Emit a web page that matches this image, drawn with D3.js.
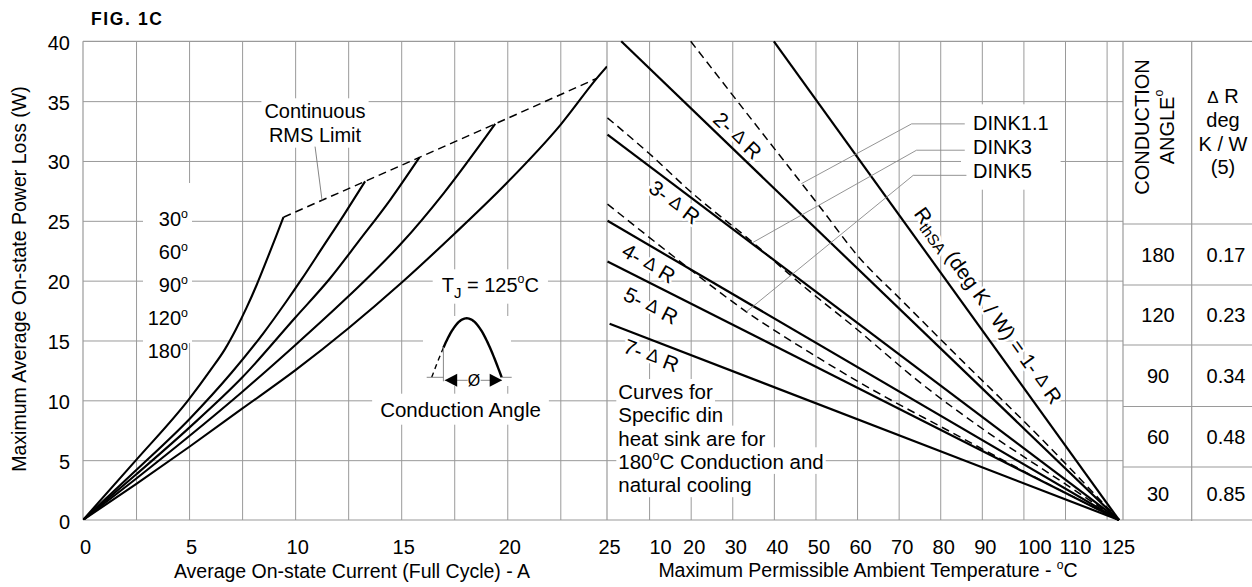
<!DOCTYPE html>
<html><head><meta charset="utf-8">
<script src="https://cdn.jsdelivr.net/npm/d3@7"></script>
<style>
body{margin:0;background:#fff}
svg{display:block;font-family:"Liberation Sans",Arial,Helvetica,sans-serif}
</style></head><body>
<svg id="c" width="1252" height="587"></svg>
<script>
// ================= DATA =================
// Left panel: power loss (W) vs average current (A) for each conduction angle
const conductionAngles = [30, 60, 90, 120, 180];
const curve30  = [[0,0],[2.5,5.0],[5,10.1],[6,12.5],[6.7,14.3],[7.2,15.9],[7.7,17.7],[8.2,19.7],[8.7,21.9],[9.1,23.7],[9.45,25.3]];
const curve60  = [[0,0],[2.5,4.15],[5,8.4],[7,12.3],[8.5,15.6],[9.6,18.3],[10.3,20.1],[11.3,22.8],[12.3,25.5],[13.3,28.3]];
const curve90  = [[0,0],[2.5,3.8],[5,7.7],[7.5,11.9],[10,16.9],[11.65,20.2],[13,23.3],[14.5,26.8],[15.86,30.3]];
const curve120 = [[0,0],[2.5,3.45],[5,7.0],[7.5,10.7],[10,14.6],[12.4,18.5],[13.4,20.2],[15,23.1],[17,27.3],[19.43,33.1]];
const curve180 = [[0,0],[2.5,3.0],[5,6.1],[7.5,9.3],[10,12.5],[12.5,16],[15,19.8],[17.5,23.9],[20,28.2],[22.5,33.0],[24.45,36.9],[25,37.9]];
const rmsLimit = [[9.45,25.3],[13.3,28.3],[15.86,30.3],[19.43,33.1],[24.45,36.9]];
const currentTicks = [0,5,10,15,20,25];
const currentGrid = [2.5,5,7.5,10,12.5,15,17.5,20,22.5];
const powerTicks = [0,5,10,15,20,25,30,35,40];
const powerGrid = [5,10,15,20,25,30,35];

// Right panel: power (W) vs ambient temperature (degC)
const rsa1 = [[40,40],[125,0]];
const rsa2 = [[3.3,40],[125,0]];
const rsa3 = [[0,32.2],[125,0]];
const rsa4 = [[0,25.0],[125,0]];
const rsa5 = [[0,21.6],[125,0]];
const rsa7 = [[0.5,16.4],[125,0]];
const rsaNames = ["1","2","3","4","5","7"];
const dink11 = [[20,40],[36.6,32.6],[51,26.2],[60.6,21.9],[70.3,18.5],[84.7,13.5],[104,6.9],[125,0]];
const dink3  = [[0,33.6],[10.1,30.6],[20.1,27.4],[34.9,23.2],[46.2,19.8],[59.4,16.1],[75.1,11.5],[91.9,7.2],[108.8,3.3],[125,0]];
const dink5  = [[0,26.4],[15.6,22.1],[33.4,17.4],[48.6,14.0],[63.1,11.0],[82.3,7.4],[101.6,3.8],[125,0]];
const dinkNames = ["DINK1.1","DINK3","DINK5"];
const tempTicks = [10,20,30,40,50,60,70,80,90,100,110,125];
const tempGrid = [10,20,30,40,50,60,70,80,90,100,110,120];

// Table
const tableAngles = ["180","120","90","60","30"];
const tableDeltaR = ["0.17","0.23","0.34","0.48","0.85"];

// ================= LAYOUT =================
const GRID = "#9a9a9a";
const svg = d3.select("#c");
const xL = d3.scaleLinear().domain([0,22.5,25]).range([83,560.3,607]);
const y  = d3.scaleLinear().domain([0,40]).range([520,41.3]);
const xR = d3.scaleLinear().domain([0,120,125]).range([607.5,1106.6,1119]);
const tableLeft = 1123, tableMid = 1191.7, tableRight = 1252;
const rowEdges = [224,285,345,406.5,467,521];
const tempLabelNudge = {10:8, 100:8, 110:7, 125:-4};

const gGrid = svg.append("g");
const gBg = svg.append("g");
const gLines = svg.append("g");
const gText = svg.append("g");

function rich(parent, parts, fs){
  const t = parent.append("text").attr("font-size", fs).attr("fill","#000");
  let shift = 0;
  parts.forEach(p=>{
    const s = typeof p === "string" ? {t:p} : p;
    let target = 0, size = fs;
    if (s.sup){ target = -0.42*fs; size = 0.62*fs; }
    if (s.sub){ target = 0.3*fs; size = 0.75*fs; }
    if (s.scale){ size = s.scale*fs; }
    t.append("tspan").attr("dy", target-shift).attr("font-size", size).text(s.t);
    shift = target;
  });
  return t;
}
function haloText(parts, fs, attrs, halo){
  const out = [];
  [gBg, gText].forEach((g,i)=>{
    const t = rich(g, parts, fs);
    Object.entries(attrs).forEach(([k,v])=>t.attr(k,v));
    if(i===0) t.attr("stroke","#fff").attr("stroke-width",halo||5).attr("stroke-linejoin","round").attr("fill","#fff");
    out.push(t);
  });
  return out[1];
}
function bgRect(sel, padX, padY){
  const b = sel.node().getBBox();
  gBg.append("rect").attr("x",b.x-padX).attr("y",b.y-padY)
    .attr("width",b.width+2*padX).attr("height",b.height+2*padY).attr("fill","#fff");
}

// ================= GRID =================
const gh = y(0)-y(40);
gGrid.append("g").attr("transform",`translate(0,${y(0)})`)
  .call(d3.axisBottom(xL).tickValues(currentGrid).tickSize(-gh).tickFormat(""))
  .call(g=>g.select(".domain").remove());
gGrid.append("g").attr("transform",`translate(0,${y(0)})`)
  .call(d3.axisBottom(xR).tickValues(tempGrid).tickSize(-gh).tickFormat(""))
  .call(g=>g.select(".domain").remove());
gGrid.append("g").attr("transform",`translate(${xL(0)},0)`)
  .call(d3.axisLeft(y).tickValues(powerGrid).tickSize(-(tableLeft-xL(0))).tickFormat(""))
  .call(g=>g.select(".domain").remove());
gGrid.selectAll(".tick line").attr("stroke",GRID).attr("stroke-width",1);
// frame
const frame = [
  [xL(0),y(40),xL(0),y(0)], [xL(25),y(40),xL(25),y(0)], [tableLeft,y(40),tableLeft,y(0)],
  [xL(0),y(40),tableRight,y(40)], [xL(0),y(0),tableRight,y(0)], [tableMid,y(40),tableMid,rowEdges[5]]
];
rowEdges.slice(0,5).forEach(r=>frame.push([tableLeft,r,tableRight,r]));
gGrid.selectAll("line.frame").data(frame).join("line").attr("class","frame")
  .attr("x1",d=>d[0]).attr("y1",d=>d[1]).attr("x2",d=>d[2]).attr("y2",d=>d[3])
  .attr("stroke",GRID).attr("stroke-width",1.2);

// ================= AXES LABELS =================
const axY = gText.append("g").attr("transform",`translate(${xL(0)},0)`)
  .call(d3.axisLeft(y).tickValues(powerTicks).tickSize(0).tickPadding(13));
const axXL = gText.append("g").attr("transform",`translate(0,${y(0)})`)
  .call(d3.axisBottom(xL).tickValues(currentTicks).tickSize(0).tickPadding(20));
const axXR = gText.append("g").attr("transform",`translate(0,${y(0)})`)
  .call(d3.axisBottom(xR).tickValues(tempTicks).tickSize(0).tickPadding(20));
[axY,axXL,axXR].forEach(a=>{
  a.select(".domain").remove();
  a.selectAll("text").attr("font-size",20).attr("font-family",null).attr("fill","#000");
});
axY.selectAll("text").attr("dy","0.4em");
axXL.selectAll("text").attr("dx",2);
axXR.selectAll("text").attr("dx",d=>3+(tempLabelNudge[d]||0));

gText.append("text").attr("transform","translate(19,279) rotate(-90)")
  .attr("text-anchor","middle").attr("dominant-baseline","central").attr("font-size",19.5)
  .text("Maximum Average On-state Power Loss (W)");
gText.append("text").attr("x",352).attr("y",578).attr("text-anchor","middle").attr("font-size",19.5)
  .text("Average On-state Current (Full Cycle) - A");
rich(gText,["Maximum Permissible Ambient Temperature - ",{t:"o",sup:true},"C"],19.5)
  .attr("x",868).attr("y",577).attr("text-anchor","middle");
gText.append("text").attr("x",91).attr("y",25).attr("font-size",17.5).attr("font-weight","bold")
  .attr("letter-spacing",1.6).text("FIG. 1C");

// ================= LEFT PANEL =================
svg.append("defs").append("clipPath").attr("id","clipL").append("rect")
  .attr("x",xL(0)).attr("y",y(40)).attr("width",xL(25)-xL(0)).attr("height",gh);
const lineL = d3.line().x(d=>xL(d[0])).y(d=>y(d[1])).curve(d3.curveMonotoneX);
const gL = gLines.append("g").attr("clip-path","url(#clipL)");
gL.selectAll("path.cond").data([curve30,curve60,curve90,curve120,curve180]).join("path")
  .attr("class","cond").attr("d",lineL).attr("fill","none").attr("stroke","#000").attr("stroke-width",2.1);
gL.append("path").attr("d",d3.line().x(d=>xL(d[0])).y(d=>y(d[1]))(rmsLimit))
  .attr("fill","none").attr("stroke","#000").attr("stroke-width",1.5).attr("stroke-dasharray","8,5");

// degree labels
const degG = gText.append("g");
conductionAngles.forEach((a,i)=>{
  rich(degG,[String(a),{t:"o",sup:true}],20).attr("x",188).attr("y",226+i*33).attr("text-anchor","end");
});
gBg.append("rect").attr("x",143).attr("y",183).attr("width",49).attr("height",160).attr("fill","#fff");

// Continuous RMS limit
const rmsG = gText.append("g").attr("text-anchor","middle").attr("font-size",20);
rmsG.append("text").attr("x",315).attr("y",118.3).text("Continuous");
rmsG.append("text").attr("x",315).attr("y",141.7).text("RMS Limit");
bgRect(rmsG,3,2);
const rmsLeader = [[10.94,31.2],[11.27,26.7]];
gLines.append("line").attr("x1",xL(rmsLeader[0][0])).attr("y1",y(rmsLeader[0][1]))
  .attr("x2",xL(rmsLeader[1][0])).attr("y2",y(rmsLeader[1][1])).attr("stroke","#777").attr("stroke-width",0.9);

// Tj and icon
const tj = rich(gText,["T",{t:"J",sub:true}," = 125",{t:"o",sup:true},"C"],20).attr("x",441.7).attr("y",291.7);
bgRect(tj,9,3);
gBg.append("rect").attr("x",423).attr("y",316).attr("width",88).attr("height",70).attr("fill","#fff");
const icon = gLines.append("g").attr("transform","translate(431.7,377.3)");
const sineX = th => th/Math.PI*70, sineY = th => -59*Math.sin(th);
const sl = d3.line().x(d=>sineX(d)).y(d=>sineY(d));
icon.append("path").attr("d",sl(d3.range(0,Math.PI/6+0.001,Math.PI/60))).attr("fill","none")
  .attr("stroke","#000").attr("stroke-width",1.4).attr("stroke-dasharray","5,4");
icon.append("path").attr("d",sl(d3.range(Math.PI/6,Math.PI+0.001,Math.PI/60))).attr("fill","none")
  .attr("stroke","#000").attr("stroke-width",2.4);
icon.append("line").attr("x1",-5).attr("x2",12).attr("y1",0).attr("y2",0).attr("stroke","#888");
icon.append("line").attr("x1",70).attr("x2",80).attr("y1",0).attr("y2",0).attr("stroke","#888");
icon.append("line").attr("x1",11.7).attr("x2",11.7).attr("y1",-30).attr("y2",4).attr("stroke","#888");
icon.append("line").attr("x1",13).attr("x2",70).attr("y1",3).attr("y2",3).attr("stroke","#888");
icon.append("path").attr("d","M13,3 L25.5,-3.5 L25.5,9.5 Z").attr("fill","#000");
icon.append("path").attr("d","M70.5,3 L58,-3.5 L58,9.5 Z").attr("fill","#000");
icon.append("rect").attr("x",36).attr("y",-5).attr("width",13).attr("height",15).attr("fill","#fff");
icon.append("text").attr("x",42.3).attr("y",9).attr("text-anchor","middle").attr("font-size",16).text("Ø");
const ca = gText.append("text").attr("x",460.5).attr("y",416.7).attr("text-anchor","middle").attr("font-size",20.5)
  .text("Conduction Angle");
bgRect(ca,8,4);

// ================= RIGHT PANEL =================
const lineR = d3.line().x(d=>xR(d[0])).y(d=>y(d[1]));
const lineRc = d3.line().x(d=>xR(d[0])).y(d=>y(d[1])).curve(d3.curveMonotoneX);
const rsaAll = [rsa1,rsa2,rsa3,rsa4,rsa5,rsa7];
gLines.selectAll("path.rsa").data(rsaAll).join("path").attr("class","rsa")
  .attr("d",lineR).attr("fill","none").attr("stroke","#000").attr("stroke-width",2.2);
const dinkAll = [dink11,dink3,dink5];
gLines.selectAll("path.dink").data(dinkAll).join("path").attr("class","dink")
  .attr("d",lineRc).attr("fill","none").attr("stroke","#000").attr("stroke-width",1.5).attr("stroke-dasharray","8,5");

// line labels
function angleOf(line){
  const a=line[0], b=line[line.length-1];
  return Math.atan2(y(b[1])-y(a[1]), xR(b[0])-xR(a[0]))*180/Math.PI;
}
const rsaLabelPos = [[91.7,17.96],[31.4,32.16],[16.2,26.6],[10.0,21.5],[10.5,17.96],[10.6,13.8]];
rsaAll.forEach((ln,i)=>{
  const p = rsaLabelPos[i];
  const parts = i===0
    ? ["R",{t:"thSA",sub:true}," (deg K / W) = 1- ",{t:"Δ",scale:0.85}," R"]
    : [rsaNames[i]+"- ",{t:"Δ",scale:0.85}," R"];
  haloText(parts,i===0?20.5:21,{transform:`translate(${xR(p[0])},${y(p[1])}) rotate(${angleOf(ln)})`,
    "text-anchor":"middle","dominant-baseline":"central"},5);
});

// DINK labels and leaders
const dinkLabel = gText.append("g").attr("font-size",20);
dinkNames.forEach((n,i)=>dinkLabel.append("text").attr("x",973).attr("y",130.3+i*23.7).text(n));
bgRect(dinkLabel,12,8);
const dinkLeaders = [
  [[85.9,33.1],[73.1,33.1],[46.6,28.1]],
  [[85.9,30.9],[74.3,30.9],[35.0,23.2]],
  [[86.3,28.8],[73.5,28.8],[33.4,17.4]]
];
gLines.selectAll("path.lead").data(dinkLeaders).join("path").attr("class","lead")
  .attr("d",lineR).attr("fill","none").attr("stroke","#888").attr("stroke-width",0.9);

// Note text
const noteLines = [["Curves for"],["Specific din"],["heat sink are for"],["180",{t:"o",sup:true},"C Conduction and"],["natural cooling"]];
noteLines.forEach((parts,i)=>{
  const t = rich(gText,parts,20.5).attr("x",618.3).attr("y",399+i*23.3);
  bgRect(t,2,1);
});

// ================= TABLE =================
const tb = gText.append("g").attr("font-size",20);
tb.append("text").attr("transform",`translate(1142,127) rotate(-90)`).attr("text-anchor","middle")
  .attr("dominant-baseline","central").text("CONDUCTION");
rich(tb,["ANGLE",{t:"o",sup:true}],20).attr("transform",`translate(1167,127) rotate(-90)`)
  .attr("text-anchor","middle").attr("dominant-baseline","central");
const hdr = [[{t:"Δ",scale:0.85}," R"],["deg"],["K / W"],["(5)"]];
hdr.forEach((p,i)=>rich(tb,p,20).attr("x",1223).attr("y",103.3+i*23.6).attr("text-anchor","middle"));
tableAngles.forEach((a,i)=>{
  const cy=(rowEdges[i]+rowEdges[i+1])/2;
  tb.append("text").attr("x",1158).attr("y",cy+7).attr("text-anchor","middle").text(a);
  tb.append("text").attr("x",1226).attr("y",cy+7).attr("text-anchor","middle").text(tableDeltaR[i]);
});
</script>
</body></html>
